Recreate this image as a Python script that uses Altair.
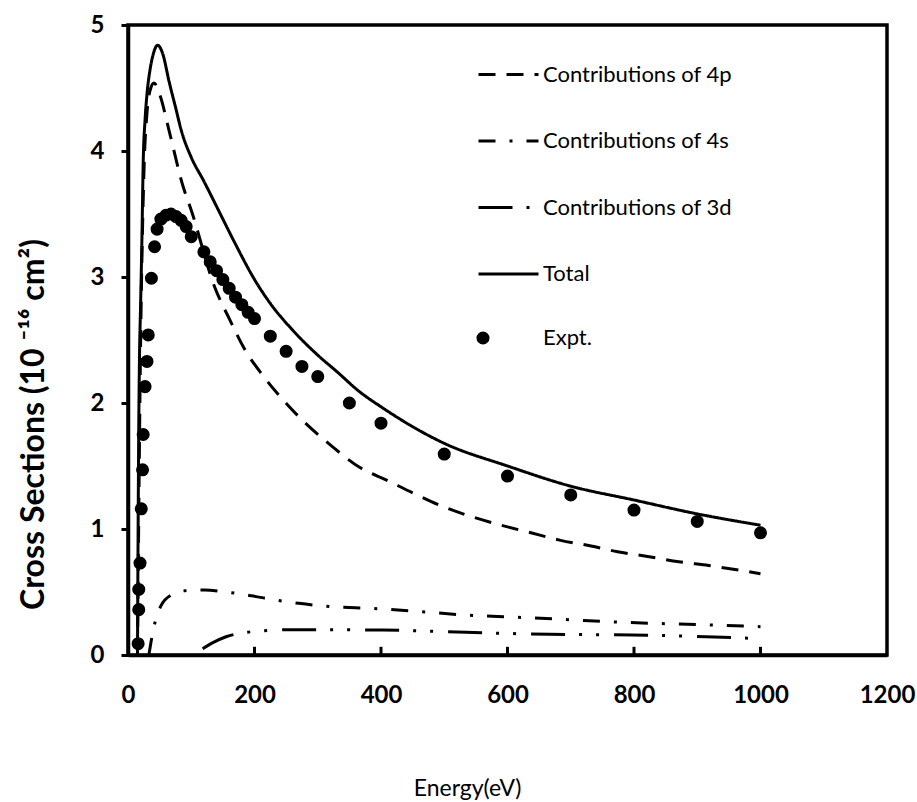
import altair as alt
import pandas as pd

# ---- data ----
total_x = [15, 16, 17, 18, 20, 22, 24, 27, 30, 35, 40, 47, 55, 65, 75, 85, 100, 120, 145, 170,
           200, 225, 260, 300, 330, 366, 400, 500, 600, 700, 800, 900, 1000]
total_y = [0.0, 1.0, 1.8, 2.3, 2.8, 3.3, 3.9, 4.25, 4.45, 4.65, 4.77, 4.84, 4.77, 4.55, 4.35, 4.15,
           3.95, 3.76, 3.51, 3.26, 2.98, 2.79, 2.58, 2.38, 2.25, 2.09, 1.97, 1.68, 1.50, 1.34,
           1.23, 1.12, 1.03]

p4_x = [15, 20, 25, 30, 36, 41, 50, 66, 87, 100, 137, 161, 184, 213, 255, 324, 366, 408, 453,
        497, 542, 590, 637, 684, 732, 774, 824, 871, 918, 970, 1000]
p4_y = [0.0, 2.5, 3.8, 4.3, 4.5, 4.54, 4.45, 4.14, 3.72, 3.53, 2.92, 2.66, 2.43, 2.22, 1.97,
        1.65, 1.49, 1.39, 1.28, 1.18, 1.10, 1.03, 0.97, 0.91, 0.865, 0.82, 0.78, 0.74, 0.71,
        0.67, 0.645]

s4_x = [33, 40, 52, 70, 90, 121, 155, 195, 229, 270, 324, 384, 461, 534, 613, 687, 763, 839,
        913, 1000]
s4_y = [0.0, 0.2, 0.39, 0.48, 0.51, 0.516, 0.50, 0.47, 0.44, 0.41, 0.383, 0.37, 0.345, 0.317,
        0.30, 0.283, 0.264, 0.25, 0.24, 0.225]

d3_x = [118, 135, 155, 180, 210, 250, 324, 403, 534, 666, 797, 913, 1000]
d3_y = [0.05, 0.10, 0.145, 0.175, 0.19, 0.20, 0.20, 0.198, 0.18, 0.164, 0.159, 0.145, 0.13]

ex_x = [16, 17, 17, 19, 21, 23, 24, 27, 30, 32, 37, 42, 46, 52, 60, 68, 76, 84, 92, 100,
        120, 130, 140, 150, 160, 170, 180, 190, 200, 225, 250, 275, 300, 350, 400, 500, 600,
        700, 800, 900, 1000]
ex_y = [0.09, 0.36, 0.52, 0.73, 1.16, 1.47, 1.75, 2.13, 2.33, 2.54, 2.99, 3.24, 3.38, 3.46,
        3.49, 3.50, 3.48, 3.45, 3.40, 3.32, 3.20, 3.12, 3.05, 2.98, 2.91, 2.84, 2.78, 2.72,
        2.67, 2.53, 2.41, 2.29, 2.21, 2.00, 1.84, 1.595, 1.42, 1.27, 1.15, 1.06, 0.97]

series_names = ["Contributions of 4p", "Contributions of 4s", "Contributions of 3d", "Total"]
expt_name = "Expt."
x_tick_values = [0, 200, 400, 600, 800, 1000, 1200]
x_inner_ticks = [200, 400, 600, 800, 1000]
y_tick_values = [0, 1, 2, 3, 4, 5]

# ---- tables ----
rows = []
for name, xs, ys in zip(series_names, [p4_x, s4_x, d3_x, total_x], [p4_y, s4_y, d3_y, total_y]):
    rows += [{"series": name, "energy": a, "cs": b} for a, b in zip(xs, ys)]
lines_df = pd.DataFrame(rows)
expt_df = pd.DataFrame({"energy": ex_x, "cs": ex_y, "kind": [expt_name] * len(ex_x)})
ticks_df = pd.DataFrame({"energy": x_inner_ticks})

dashes = [[17, 11], [17, 14, 3, 14], [34, 14, 3, 14, 3, 15], [1, 0]]

xscale = alt.Scale(domain=[0, 1200], nice=False)
yscale = alt.Scale(domain=[0, 5], nice=False)

x_axis = alt.Axis(values=x_tick_values, format="d", title="Energy(eV)", tickSize=0,
                  labelFlush=False, labelOverlap=False,
                  labelPadding=40, labelBaseline="middle", labelFont="Lato", labelFontSize=24,
                  labelFontWeight="bold", titleFont="Lato", titleFontSize=23,
                  titleFontWeight="normal", titleX=339, titleY=133, titleAlign="center",
                  titleBaseline="middle")
y_axis = alt.Axis(values=y_tick_values, format="d", title="Cross Sections (10 ⁻¹⁶ cm²)",
                  labelFlush=False, labelOverlap=False,
                  tickSize=7, tickWidth=3, labelPadding=17, labelFont="Lato", labelFontSize=24,
                  labelFontWeight="bold", titleFont="Lato", titleFontSize=32,
                  titleFontWeight="bold", titleX=-95, titleY=399, titleAngle=270,
                  titleAlign="center", titleBaseline="middle")

lines = alt.Chart(lines_df).mark_line(
    color="black", strokeWidth=3, interpolate="monotone", strokeCap="butt"
).encode(
    x=alt.X("energy:Q", scale=xscale, axis=x_axis),
    y=alt.Y("cs:Q", scale=yscale, axis=y_axis),
    strokeDash=alt.StrokeDash(
        "series:N",
        scale=alt.Scale(domain=series_names, range=dashes),
        legend=alt.Legend(title=None, orient="none", legendX=349, legendY=18,
                          symbolType="stroke", symbolSize=3600, symbolStrokeWidth=3,
                          symbolStrokeColor="black", labelFont="Lato", labelFontSize=22,
                          labelColor="black", labelOffset=3, rowPadding=23.5, padding=0,
                          labelLimit=400),
    ),
)

points = alt.Chart(expt_df).mark_point(filled=True, size=170, color="black", opacity=1).encode(
    x=alt.X("energy:Q", scale=xscale),
    y=alt.Y("cs:Q", scale=yscale),
    shape=alt.Shape(
        "kind:N",
        scale=alt.Scale(domain=[expt_name], range=["circle"]),
        legend=alt.Legend(title=None, orient="none", legendX=344, legendY=302,
                          symbolSize=170, symbolFillColor="black", symbolStrokeColor="black",
                          symbolOpacity=1, labelFont="Lato", labelFontSize=22,
                          labelColor="black", labelOffset=49, padding=0),
    ),
)

inner_ticks = alt.Chart(ticks_df).mark_rule(color="black", strokeWidth=3).encode(
    x=alt.X("energy:Q", scale=xscale),
    y=alt.datum(0),
    y2=alt.datum(0.065),
)

chart = alt.layer(lines, points, inner_ticks).properties(
    width=759, height=630,
    autosize=alt.AutoSizeParams(type="none"),
    padding={"left": 128, "top": 25, "right": 30, "bottom": 147},
    background="white",
).configure_view(
    stroke="black", strokeWidth=3.5
).configure_axis(
    domainColor="black", domainWidth=3.5, tickColor="black", grid=False,
    labelColor="black", titleColor="black"
)

chart.save("out.html", embed_options={"renderer": "svg", "actions": False})
